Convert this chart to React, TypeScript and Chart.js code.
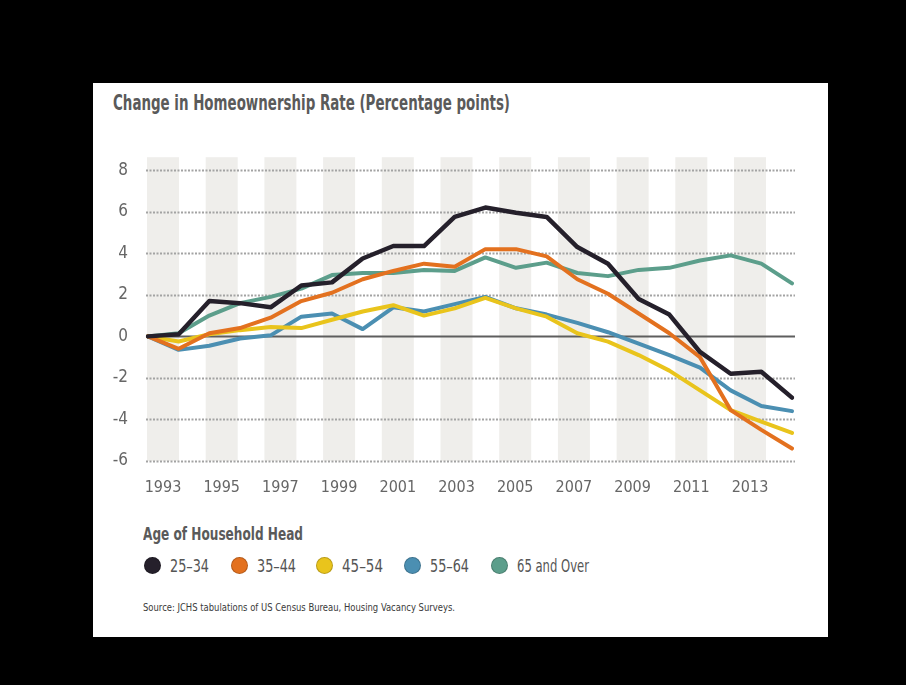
import React, { useEffect, useLayoutEffect, useRef } from "react";
import { Chart, registerables } from "chart.js";

Chart.register(...registerables);

const years = [1993, 1994, 1995, 1996, 1997, 1998, 1999, 2000, 2001, 2002, 2003, 2004, 2005, 2006, 2007, 2008, 2009, 2010, 2011, 2012, 2013, 2014];
const tickYears = [1993, 1995, 1997, 1999, 2001, 2003, 2005, 2007, 2009, 2011, 2013];
const yTicks = [-6, -4, -2, 0, 2, 4, 6, 8];

const age2534 = [0, 0.1, 1.7, 1.6, 1.4, 2.45, 2.6, 3.75, 4.35, 4.35, 5.75, 6.2, 5.95, 5.75, 4.3, 3.5, 1.8, 1.05, -0.75, -1.8, -1.7, -2.95];
const age3544 = [0, -0.6, 0.15, 0.4, 0.9, 1.7, 2.1, 2.75, 3.15, 3.5, 3.35, 4.2, 4.2, 3.85, 2.75, 2.05, 1.1, 0.15, -1.0, -3.55, -4.5, -5.4];
const age4554 = [0, -0.25, 0.1, 0.3, 0.45, 0.4, 0.8, 1.2, 1.5, 1.0, 1.35, 1.85, 1.35, 0.95, 0.15, -0.25, -0.9, -1.65, -2.6, -3.55, -4.1, -4.65];
const age5564 = [0, -0.65, -0.45, -0.1, 0.05, 0.95, 1.1, 0.35, 1.4, 1.2, 1.55, 1.9, 1.35, 1.05, 0.65, 0.2, -0.35, -0.9, -1.5, -2.6, -3.35, -3.6];
const age65plus = [0, 0.15, 1.0, 1.6, 1.9, 2.3, 2.95, 3.05, 3.05, 3.2, 3.15, 3.8, 3.3, 3.55, 3.05, 2.9, 3.2, 3.3, 3.65, 3.9, 3.5, 2.55];

const seriesNames = ["25–34", "35–44", "45–54", "55–64", "65 and Over"];
const seriesColors = ["#25202b", "#e3711f", "#e9c41c", "#4b8fb2", "#5c9e8b"];
const seriesValues = [age2534, age3544, age4554, age5564, age65plus];

const titleText = "Change in Homeownership Rate (Percentage points)";
const legendTitle = "Age of Household Head";
const sourceText = "Source: JCHS tabulations of US Census Bureau, Housing Vacancy Surveys.";

const FONT = "'DejaVu Sans Condensed', 'DejaVu Sans', sans-serif";

const backdropPlugin = {
  id: "backdrop",
  beforeDatasetsDraw(chart: any) {
    const { ctx, chartArea } = chart;
    const x2 = chart.scales.x2;
    const y = chart.scales.y;
    ctx.save();
    ctx.fillStyle = "#efeeeb";
    for (const yr of tickYears) {
      const c = x2.getPixelForValue(yr);
      ctx.fillRect(c - 16, chartArea.top - 13, 32, chartArea.bottom - chartArea.top + 13);
    }
    for (const t of yTicks) {
      const py = Math.round(y.getPixelForValue(t)) + 0.5;
      ctx.beginPath();
      if (t === 0) {
        ctx.setLineDash([]);
        ctx.strokeStyle = "#5e5e5e";
        ctx.lineWidth = 2;
      } else {
        ctx.setLineDash([2, 1.5]);
        ctx.strokeStyle = "#a3a3a3";
        ctx.lineWidth = 2;
      }
      ctx.moveTo(chartArea.left - 2, py);
      ctx.lineTo(chartArea.right + 3, py);
      ctx.stroke();
    }
    ctx.restore();
  },
};

function FitText({ text, width, style }: { text: string; width: number; style: React.CSSProperties }) {
  const ref = useRef<HTMLSpanElement | null>(null);
  useLayoutEffect(() => {
    const el = ref.current;
    if (!el) return;
    el.style.transform = "none";
    const w = el.getBoundingClientRect().width;
    if (w > 0) el.style.transform = `scaleX(${width / w})`;
  }, [text, width]);
  return (
    <span ref={ref} style={{ display: "inline-block", whiteSpace: "nowrap", transformOrigin: "left center", ...style }}>
      {text}
    </span>
  );
}

function LineChart() {
  const ref = useRef<HTMLCanvasElement | null>(null);
  useEffect(() => {
    if (!ref.current) return;
    const chart = new Chart(ref.current, {
      type: "line",
      data: {
        labels: years.map(String),
        datasets: seriesValues.map((vals, i) => ({
          label: seriesNames[i],
          data: vals,
          borderColor: seriesColors[i],
          backgroundColor: seriesColors[i],
          borderWidth: i === 0 ? 4.5 : 4,
          pointRadius: 0,
          tension: 0,
          borderJoinStyle: "round" as const,
          borderCapStyle: "round" as const,
          fill: false,
          order: i,
        })),
      },
      options: {
        responsive: false,
        animation: false,
        layout: { padding: { left: 0, right: 36, top: 18, bottom: 0 } },
        plugins: {
          legend: { display: false },
          tooltip: { enabled: false },
          title: { display: false },
        },
        scales: {
          x: {
            type: "category",
            display: false,
            offset: false,
          },
          x2: {
            type: "linear",
            position: "bottom",
            min: 1992.489,
            max: 2014.43,
            afterBuildTicks: (axis: any) => {
              axis.ticks = tickYears.map((v) => ({ value: v }));
            },
            afterFit: (scale: any) => {
              scale.height = 49;
            },
            grid: { display: false, drawTicks: false },
            border: { display: false },
            ticks: {
              autoSkip: false,
              maxRotation: 0,
              padding: 17,
              color: "#666666",
              font: { family: FONT, size: 16 },
              callback: (v: any) => String(v),
            },
          },
          y: {
            min: -6,
            max: 8,
            afterBuildTicks: (axis: any) => {
              axis.ticks = yTicks.map((v) => ({ value: v }));
            },
            afterFit: (scale: any) => {
              scale.width = 55;
            },
            grid: { display: false, drawTicks: false },
            border: { display: false },
            ticks: {
              padding: 20,
              color: "#666666",
              font: { family: FONT, size: 17 },
            },
          },
        },
      },
      plugins: [backdropPlugin],
    });
    return () => chart.destroy();
  }, []);
  return <canvas ref={ref} width={735} height={370} style={{ width: 735, height: 370, display: "block" }} />;
}

export default function App() {
  const legendLefts = [51, 138, 223, 311, 398];
  const legendWidths = [39, 39, 41, 39, 72];
  return (
    <div style={{ position: "absolute", left: 0, top: 0, width: 906, height: 685, background: "#000", overflow: "hidden", fontFamily: FONT }}>
      <div style={{ position: "absolute", left: 93, top: 83, width: 735, height: 554, background: "#ffffff" }}>
        <div style={{ position: "absolute", left: 20, top: 8 }}>
          <FitText text={titleText} width={397} style={{ fontSize: 21, fontWeight: 700, color: "#5a5a5a" }} />
        </div>
        <div style={{ position: "absolute", left: 0, top: 57 }}>
          <LineChart />
        </div>
        <div style={{ position: "absolute", left: 50, top: 440 }}>
          <FitText text={legendTitle} width={160} style={{ fontSize: 18, fontWeight: 700, color: "#5a5a5a" }} />
        </div>
        {seriesNames.map((name, i) => (
          <div key={name} style={{ position: "absolute", left: legendLefts[i], top: 472, display: "flex", alignItems: "center", whiteSpace: "nowrap" }}>
            <span style={{ display: "inline-block", width: 17, height: 17, borderRadius: "50%", background: seriesColors[i], border: "1px solid rgba(0,0,0,0.2)", boxSizing: "border-box" }} />
            <span style={{ marginLeft: 9 }}>
              <FitText text={name} width={legendWidths[i]} style={{ fontSize: 18, color: "#555555" }} />
            </span>
          </div>
        ))}
        <div style={{ position: "absolute", left: 50, top: 513 }}>
          <FitText text={sourceText} width={312} style={{ fontSize: 11, color: "#3a3a3a" }} />
        </div>
      </div>
    </div>
  );
}
